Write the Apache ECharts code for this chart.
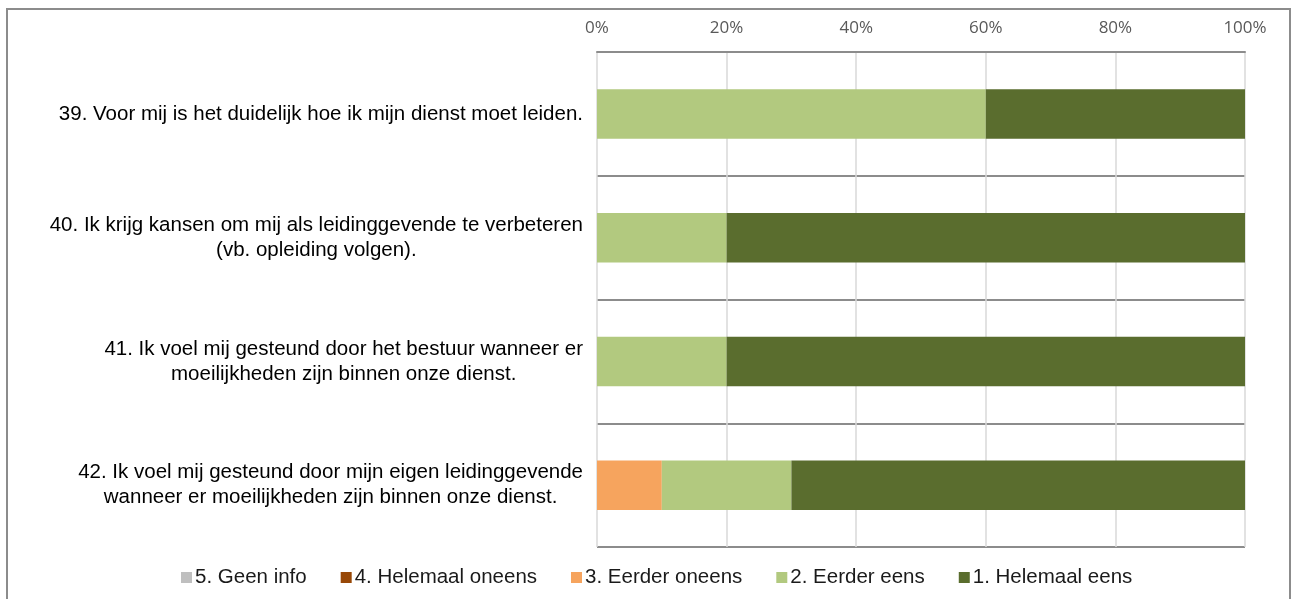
<!DOCTYPE html>
<html>
<head>
<meta charset="utf-8">
<script src="https://cdn.jsdelivr.net/npm/echarts@6/dist/echarts.min.js"></script>
<style>
    html, body { margin: 0; padding: 0; background: #ffffff; }
    #chart { width: 1298px; height: 599px; }
</style>
</head>
<body>
<div id="chart"></div>
<script>
// vragen, van boven naar onder
var questions = [
    '39. Voor mij is het duidelijk hoe ik mijn dienst moet leiden.',
    '40. Ik krijg kansen om mij als leidinggevende te verbeteren\n(vb. opleiding volgen).',
    '41. Ik voel mij gesteund door het bestuur wanneer er\nmoeilijkheden zijn binnen onze dienst.',
    '42. Ik voel mij gesteund door mijn eigen leidinggevende\nwanneer er moeilijkheden zijn binnen onze dienst.'
];
var answerNames = ['5. Geen info', '4. Helemaal oneens', '3. Eerder oneens', '2. Eerder eens', '1. Helemaal eens'];
var answerColors = ['#bfbfbf', '#984807', '#f6a45e', '#b2c97f', '#5a6d2e'];

// percentages per vraag
var geenInfo = [0, 0, 0, 0];
var helemaalOneens = [0, 0, 0, 0];
var eerderOneens = [0, 0, 0, 10];
var eerderEens = [60, 20, 20, 20];
var helemaalEens = [40, 80, 80, 70];

var tickValues = [0, 20, 40, 60, 80, 100];

var valueLists = [geenInfo, helemaalOneens, eerderOneens, eerderEens, helemaalEens];

var series = [];
for (let i = 0; i < answerNames.length; i++) {
    series.push({
        name: answerNames[i],
        type: 'bar',
        stack: 'totaal',
        barWidth: '40%',
        itemStyle: { color: answerColors[i] },
        data: valueLists[i]
    });
}

var chart = echarts.init(document.getElementById('chart'));
chart.setOption({
    animation: false,
    graphic: [{
        type: 'rect',
        shape: { x: 7, y: 9, width: 1283, height: 600 },
        style: { fill: 'none', stroke: '#8c8c8c', lineWidth: 2 },
        silent: true
    }],
    grid: { left: 597, right: 53, top: 52, bottom: 52 },
    legend: {
        top: 562,
        left: 176,
        itemWidth: 11,
        itemHeight: 11,
        itemGap: 34,
        icon: 'rect',
        textStyle: { fontFamily: 'Liberation Sans', fontSize: 20.5, color: '#1a1a1a', padding: [0, 0, 0, -2] },
        data: answerNames
    },
    xAxis: {
        type: 'value',
        position: 'top',
        min: tickValues[0],
        max: tickValues[tickValues.length - 1],
        interval: 20,
        axisLine: { show: true, lineStyle: { color: '#8c8c8c', width: 2 } },
        axisTick: { show: false },
        axisLabel: {
            margin: 15,
            fontFamily: 'Open Sans',
            fontSize: 17,
            color: '#595959',
            formatter: function (v) { return v + '%'; }
        },
        splitLine: { show: true, lineStyle: { color: '#d9d9d9', width: 1.5 } }
    },
    yAxis: {
        type: 'category',
        inverse: true,
        data: questions,
        axisLine: { show: false },
        axisTick: { show: false },
        axisLabel: {
            margin: 14,
            fontFamily: 'Liberation Sans',
            fontSize: 20.5,
            color: '#000000',
            lineHeight: 25,
            formatter: function (v) { return '{c|' + v + '}'; },
            rich: { c: { align: 'center', fontFamily: 'Liberation Sans', fontSize: 20.5, lineHeight: 25, color: '#000000' } }
        },
        splitLine: { show: true, lineStyle: { color: '#8c8c8c', width: 2 } }
    },
    series: series
});
</script>
</body>
</html>
